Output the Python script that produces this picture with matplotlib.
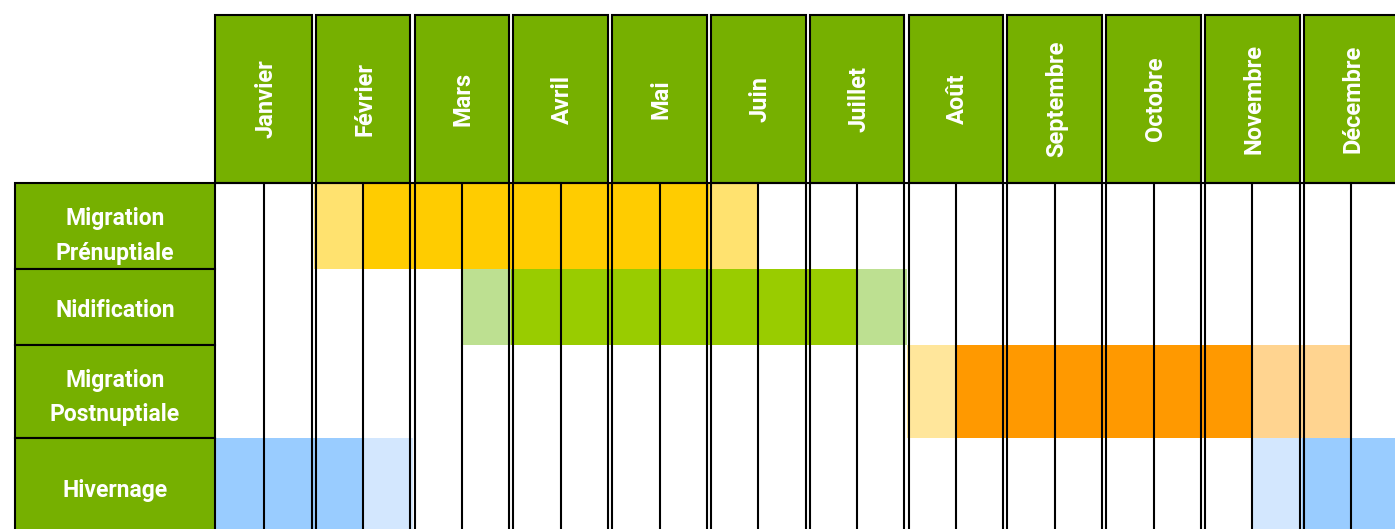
import matplotlib
matplotlib.use("Agg")
import matplotlib.pyplot as plt
import numpy as np

# ---------------- data ----------------
months = ["Janvier", "Février", "Mars", "Avril", "Mai", "Juin", "Juillet",
          "Août", "Septembre", "Octobre", "Novembre", "Décembre"]
phases = ["Migration\nPrénuptiale", "Nidification", "Migration\nPostnuptiale", "Hivernage"]

# intensity per half-month (24 values): 0 = none, 1 = light (start), 2 = full, 3 = light (end)
prenuptiale  = [0, 0, 1, 2, 2, 2, 2, 2, 2, 2, 1, 0, 0, 0, 0, 0, 0, 0, 0, 0, 0, 0, 0, 0]
nidification = [0, 0, 0, 0, 0, 1, 2, 2, 2, 2, 2, 2, 2, 1, 0, 0, 0, 0, 0, 0, 0, 0, 0, 0]
postnuptiale = [0, 0, 0, 0, 0, 0, 0, 0, 0, 0, 0, 0, 0, 0, 1, 2, 2, 2, 2, 2, 2, 3, 3, 0]
hivernage    = [2, 2, 2, 1, 0, 0, 0, 0, 0, 0, 0, 0, 0, 0, 0, 0, 0, 0, 0, 0, 0, 1, 2, 2]

phase_levels = [prenuptiale, nidification, postnuptiale, hivernage]
phase_colors = [
    {1: "#FFE26F", 2: "#FFCC00", 3: "#FFE26F"},
    {1: "#BDE091", 2: "#99CC00", 3: "#BDE091"},
    {1: "#FFE69B", 2: "#FF9900", 3: "#FFD490"},
    {1: "#D3E7FE", 2: "#99CCFF", 3: "#D3E7FE"},
]

# ---------------- style / layout ----------------
GREEN = "#76B000"
hw = 49.4                     # pixels per half-month
W, H = 1395, 529
row_edges = [183, 269, 344.5, 438, 548]
header_top, header_bot = 15, 183
label_w = 200 / hw
gap = 2.1 / hw
lw = 1.5

plt.rcParams['font.family'] = ['Roboto', 'DejaVu Sans']

fig = plt.figure(figsize=(W / 100, H / 100), dpi=100)
ax = fig.add_axes([0, 0, 1, 1])
ax.set_xlim(-215 / hw, (W - 215) / hw)
ax.set_ylim(H, 0)
ax.axis('off')

# ---- colored cells ----
for r, (levels, cmap) in enumerate(zip(phase_levels, phase_colors)):
    levels = np.array(levels)
    idx = np.nonzero(levels)[0]
    ax.bar(idx + 0.5, row_edges[r + 1] - row_edges[r], bottom=row_edges[r],
           width=1.0, color=[cmap[v] for v in levels[idx]], linewidth=0, zorder=1)

# ---- header month boxes ----
centers = np.arange(len(months)) * 2 + 1
lefts = centers - 1 + gap
lefts[0] = 0
widths = np.full(len(months), 2 - 2 * gap)
widths[0] = 2 - gap
ax.bar(lefts, header_bot - header_top, bottom=header_top, width=widths, align="edge",
       color=GREEN, edgecolor="black", linewidth=lw, zorder=3)
for c, m in zip(centers, months):
    ax.text(c + 0.03, (header_top + header_bot) / 2, m, rotation=90, ha="center", va="center",
            color="white", fontsize=17, fontweight="bold", zorder=5)

# ---- body vertical lines ----
dbl = []
for k in range(1, 13):
    dbl += [2 * k - gap, 2 * k + gap]
halves = list(np.arange(12) * 2 + 1)
ax.vlines(dbl + halves, header_bot, row_edges[-1], colors="black", linewidth=lw, zorder=4)
ax.hlines(header_bot, 0, 24, colors="black", linewidth=lw, zorder=4)

# ---- row label boxes ----
heights = np.diff(row_edges)
ax.bar(np.full(len(phases), -label_w), heights, bottom=row_edges[:-1], width=label_w,
       align="edge", color=GREEN, edgecolor="black", linewidth=lw, zorder=3)
for r, p in enumerate(phases):
    top = row_edges[r]
    parts = p.split("\n")
    if len(parts) == 2:
        ys = [top + 42, top + 77]
    elif r == len(phases) - 1:
        ys = [top + 59]
    else:
        ys = [top + 48]
    for y, t in zip(ys, parts):
        ax.text(-label_w / 2, y, t, ha="center", va="baseline", color="white",
                fontsize=16.5, fontweight="bold", zorder=5)

fig.savefig("out.png", dpi=100)
